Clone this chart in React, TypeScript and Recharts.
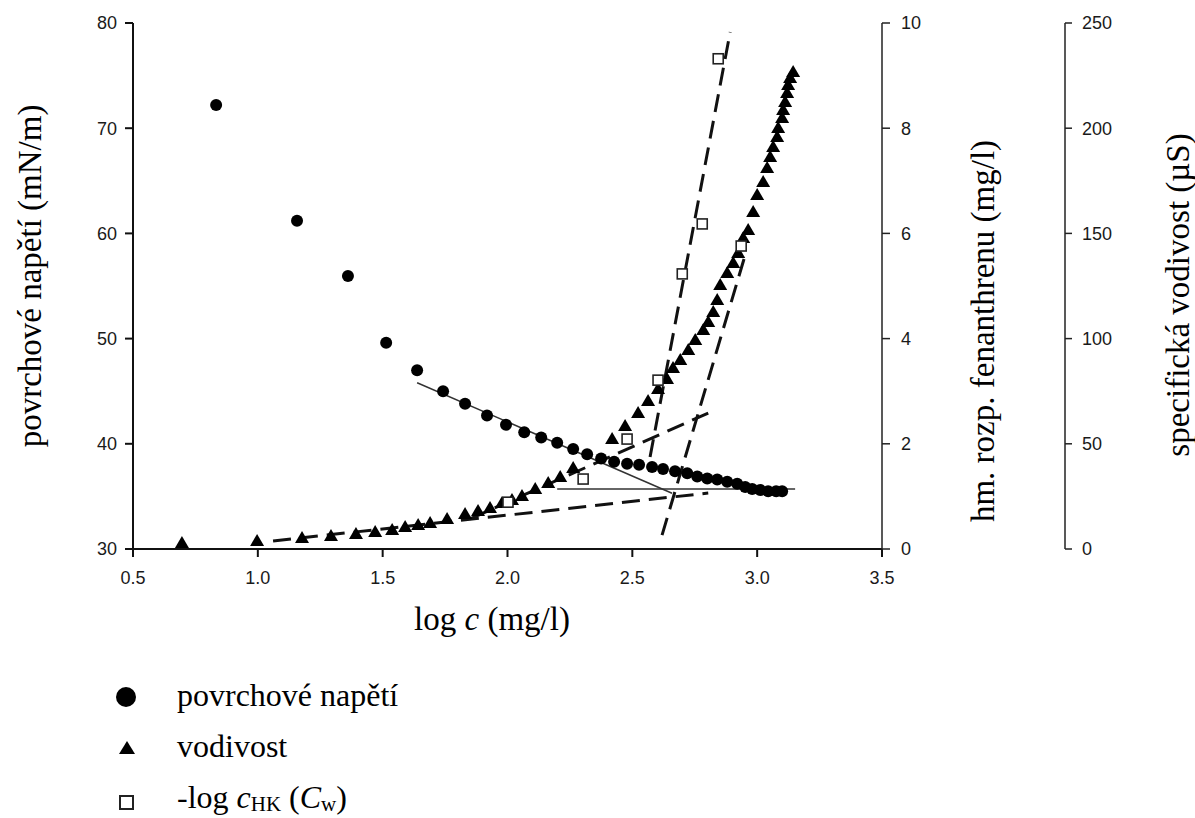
import { ScatterChart, Scatter, XAxis, YAxis } from 'recharts'

// log c (mg/l) on x for every series
const tensionLogC = [0.833, 1.157, 1.361, 1.514, 1.638, 1.742, 1.83, 1.918, 1.994, 2.067, 2.135, 2.199, 2.263, 2.319, 2.375, 2.427, 2.479, 2.527, 2.579, 2.623, 2.671, 2.72, 2.76, 2.8, 2.84, 2.88, 2.92, 2.952, 2.98, 3.012, 3.044, 3.076, 3.1]
const tensionValues = [72.2, 61.2, 55.95, 49.6, 47.0, 45.0, 43.8, 42.7, 41.8, 41.1, 40.6, 40.1, 39.5, 39.0, 38.6, 38.3, 38.1, 38.0, 37.8, 37.6, 37.4, 37.2, 36.9, 36.7, 36.6, 36.4, 36.2, 35.9, 35.7, 35.6, 35.5, 35.5, 35.5]

const condLogC = [0.696, 0.997, 1.177, 1.293, 1.393, 1.47, 1.538, 1.59, 1.642, 1.69, 1.758, 1.83, 1.882, 1.93, 1.978, 2.018, 2.058, 2.111, 2.163, 2.211, 2.263, 2.419, 2.471, 2.523, 2.563, 2.603, 2.639, 2.663, 2.692, 2.724, 2.752, 2.784, 2.804, 2.824, 2.84, 2.852, 2.88, 2.904, 2.924, 2.944, 2.964, 2.984, 3.0, 3.024, 3.04, 3.052, 3.064, 3.08, 3.084, 3.1, 3.104, 3.112, 3.12, 3.124, 3.132, 3.144]
const condValues = [2.9, 3.8, 5.2, 6.2, 7.1, 8.1, 9.0, 10.5, 11.4, 12.4, 14.3, 16.6, 18.1, 19.5, 21.9, 23.3, 25.2, 28.5, 31.4, 34.2, 38.5, 52.3, 58.5, 64.6, 70.3, 76.0, 80.8, 86.0, 89.8, 94.6, 99.3, 104.1, 107.9, 112.6, 118.3, 125.5, 131.2, 135.9, 140.7, 147.8, 151.6, 160.2, 168.2, 174.4, 181.1, 186.3, 191.1, 195.8, 200.1, 204.9, 208.7, 212.5, 216.7, 220.5, 223.9, 226.7]

const phenLogC = [2.002, 2.303, 2.479, 2.603, 2.7, 2.78, 2.844, 2.936]
const phenValues = [0.89, 1.33, 2.09, 3.21, 5.23, 6.18, 9.32, 5.76]

// fitted lines (end points)
const tensionFitX = [1.638, 2.659]
const tensionFitY = [45.8, 35.3]
const plateauX = [2.199, 3.152]
const plateauY = [35.7, 35.7]
const condFitAX = [1.061, 2.804]
const condFitAY = [3.8, 26.6]
const condFitBX = [1.85, 2.804]
const condFitBY = [14.3, 64.6]
const condFitCX = [2.619, 2.952]
const condFitCY = [6.6, 139.7]
const phenFitX = [2.571, 2.892]
const phenFitY = [1.75, 9.83]

const xTicks = [0.5, 1.0, 1.5, 2.0, 2.5, 3.0, 3.5]
const tensionTicks = [30, 40, 50, 60, 70, 80]
const phenTicks = [0, 2, 4, 6, 8, 10]
const condTicks = [0, 50, 100, 150, 200, 250]

const zip = (xs: number[], ys: number[]) => xs.map((x, i) => ({ x, y: ys[i] }))

const tensionData = zip(tensionLogC, tensionValues)
const condData = zip(condLogC, condValues)
const phenData = zip(phenLogC, phenValues)

const sans = '"Liberation Sans", Arial, sans-serif'
const serif = '"Liberation Serif", "Times New Roman", serif'
const tickStyle = { fontSize: 18, fill: '#1a1a1a', fontFamily: sans }

const Dot = (p: any) => <circle cx={p.cx} cy={p.cy} r={6} fill='#000' />
const Tri = (p: any) => (
  <path d={`M${p.cx},${p.cy - 7} L${p.cx + 7},${p.cy + 5} L${p.cx - 7},${p.cy + 5} Z`} fill='#000' />
)
const Sq = (p: any) => (
  <rect x={p.cx - 5} y={p.cy - 5} width={10} height={10} fill='#fff' stroke='#222' strokeWidth={1.6} />
)
const NoMark = () => <g />

const dashed = { stroke: '#111', strokeWidth: 3, strokeDasharray: '18 9' }
const thin = { stroke: '#333', strokeWidth: 1.5 }

// r1 = hm. rozp. fenanthrenu (next to plot), r2 = specifická vodivost (outer)
export default function App() {
  return (
    <div style={{ position: 'absolute', left: 0, top: 0, width: 1195, height: 818, background: '#fff' }}>
      <ScatterChart width={1195} height={818} margin={{ top: 23, right: 0, bottom: 209, left: 0 }}>
        <XAxis
          xAxisId='b'
          type='number'
          dataKey='x'
          domain={[0.5, 3.5]}
          ticks={xTicks}
          tickFormatter={(v: number) => v.toFixed(1)}
          height={60}
          tickSize={8}
          tickMargin={14}
          tick={tickStyle}
          stroke='#111'
          strokeWidth={2}
        />
        <XAxis xAxisId='t' orientation='top' type='number' domain={[0.5, 3.5]} height={0} tick={false} tickLine={false} stroke='#111' strokeWidth={2} />
        <YAxis
          yAxisId='l'
          type='number'
          dataKey='y'
          domain={[30, 80]}
          ticks={tensionTicks}
          width={133}
          tickSize={8}
          tickMargin={8}
          tick={tickStyle}
          stroke='#111'
          strokeWidth={2}
        />
        <YAxis
          yAxisId='r1'
          orientation='right'
          type='number'
          dataKey='y'
          domain={[0, 10]}
          ticks={phenTicks}
          width={183}
          tickSize={8}
          tickMargin={11}
          tick={tickStyle}
          stroke='#222'
          strokeWidth={1.5}
        />
        <YAxis
          yAxisId='r2'
          orientation='right'
          type='number'
          dataKey='y'
          domain={[0, 250]}
          ticks={condTicks}
          width={130}
          tickSize={7}
          tickMargin={10}
          tick={tickStyle}
          stroke='#222'
          strokeWidth={1.5}
        />

        <Scatter xAxisId='b' yAxisId='l' data={zip(tensionFitX, tensionFitY)} line={thin} shape={NoMark} isAnimationActive={false} />
        <Scatter xAxisId='b' yAxisId='l' data={zip(plateauX, plateauY)} line={thin} shape={NoMark} isAnimationActive={false} />
        <Scatter xAxisId='b' yAxisId='r2' data={zip(condFitAX, condFitAY)} line={dashed} shape={NoMark} isAnimationActive={false} />
        <Scatter xAxisId='b' yAxisId='r2' data={zip(condFitBX, condFitBY)} line={dashed} shape={NoMark} isAnimationActive={false} />
        <Scatter xAxisId='b' yAxisId='r2' data={zip(condFitCX, condFitCY)} line={dashed} shape={NoMark} isAnimationActive={false} />
        <Scatter xAxisId='b' yAxisId='r1' data={zip(phenFitX, phenFitY)} line={dashed} shape={NoMark} isAnimationActive={false} />

        <Scatter xAxisId='b' yAxisId='l' data={tensionData} shape={Dot} isAnimationActive={false} />
        <Scatter xAxisId='b' yAxisId='r2' data={condData} shape={Tri} isAnimationActive={false} />
        <Scatter xAxisId='b' yAxisId='r1' data={phenData} shape={Sq} isAnimationActive={false} />
      </ScatterChart>

      <svg width={1195} height={818} style={{ position: 'absolute', left: 0, top: 0, pointerEvents: 'none' }}>
        <g fontFamily={serif} fontSize={33} fill='#000'>
          <text transform='translate(41,276) rotate(-90)' textAnchor='middle'>povrchové napětí (mN/m)</text>
          <text transform='translate(994,331) rotate(-90)' textAnchor='middle'>hm. rozp. fenanthrenu (mg/l)</text>
          <text transform='translate(1189,295) rotate(-90)' textAnchor='middle'>specifická vodivost (µS)</text>
          <text x={492} y={630} textAnchor='middle'>
            log <tspan fontStyle='italic'>c</tspan> (mg/l)
          </text>
        </g>
        <g fontFamily={serif} fontSize={32} fill='#000'>
          <circle cx={126} cy={697} r={10} fill='#000' />
          <text x={177} y={706}>povrchové napětí</text>
          <path d='M127,741 L135,754 L119,754 Z' fill='#000' />
          <text x={177} y={757}>vodivost</text>
          <rect x={120} y={796} width={13} height={13} fill='#fff' stroke='#222' strokeWidth={2} />
          <text x={177} y={808}>
            -log <tspan fontStyle='italic'>c</tspan>
            <tspan fontSize={21} dy={3}>HK</tspan>
            <tspan dy={-3}> (</tspan>
            <tspan fontStyle='italic'>C</tspan>
            <tspan fontSize={21} dy={3}>w</tspan>
            <tspan dy={-3}>)</tspan>
          </text>
        </g>
      </svg>
    </div>
  )
}
